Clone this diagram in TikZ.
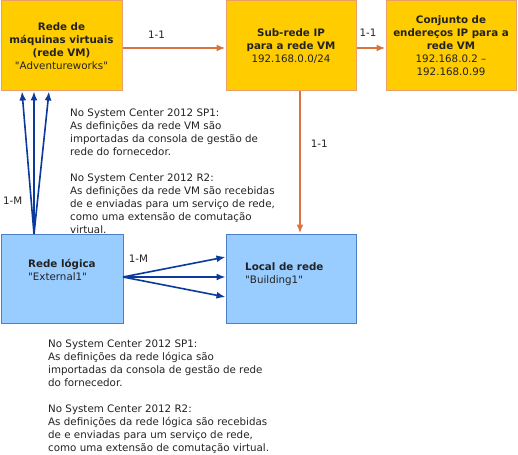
\documentclass[tikz,border=0pt]{standalone}
\usepackage{fontspec}
\setmainfont{DejaVu Sans}
\usetikzlibrary{arrows.meta}
\definecolor{vmgold}{HTML}{FFCC00}
\definecolor{goldedge}{HTML}{E8A06A}
\definecolor{arrorange}{HTML}{D9733F}
\definecolor{lrblue}{HTML}{99CCFF}
\definecolor{blueedge}{HTML}{4D7FC9}
\definecolor{arrblue}{HTML}{0B3A9C}
\definecolor{txtgray}{HTML}{222222}

\begin{document}
\begin{tikzpicture}[x=1pt,y=-1pt,
  every node/.style={font=\fontsize{10.3}{13}\selectfont, text=txtgray},
  goldbox/.style={draw=goldedge, fill=vmgold, line width=1pt, align=center},
  bluebox/.style={draw=blueedge, fill=lrblue, line width=1pt},
  orangearrow/.style={draw=arrorange, line width=1.8pt, -{Latex[length=9pt,width=7pt]}},
  bluearrow/.style={draw=arrblue, line width=1.6pt, -{Latex[length=9pt,width=7pt]}},
  lbl/.style={inner sep=0pt},
  note/.style={align=left, inner sep=0pt, anchor=north west}]
\useasboundingbox (0,0) rectangle (518,454); %page size

\node[goldbox, minimum width=121, minimum height=90] (vm) at (61.5,46) {\textbf{Rede de}\\\textbf{máquinas virtuais}\\\textbf{(rede VM)}\\\textquotedbl Adventureworks\textquotedbl}; %VM network
\node[goldbox, minimum width=130, minimum height=90] (sub) at (291,46) {\textbf{Sub-rede IP}\\\textbf{para a rede VM}\\192.168.0.0/24}; %IP subnet
\node[goldbox, minimum width=130, minimum height=90] (pool) at (451,46) {\textbf{Conjunto de}\\\textbf{endereços IP para a}\\\textbf{rede VM}\\192.168.0.2 --\\192.168.0.99}; %address pool
\node[bluebox, minimum width=122, minimum height=89] (lr) at (62,278.5) {}; %logical network
\node[bluebox, minimum width=130, minimum height=89] (loc) at (291,278.5) {}; %network site
\node[align=left, inner sep=0pt, anchor=west] (lrtxt) at (28,269.5) {\textbf{Rede lógica}\\\textquotedbl External1\textquotedbl}; %logical network text
\node[align=left, inner sep=0pt, anchor=west] (loctxt) at (245,274.5) {\textbf{Local de rede}\\\textquotedbl Building1\textquotedbl}; %site text

\draw[orangearrow] (vm.east |- 0,48) -- (sub.west |- 0,48) node[lbl, pos=.33, above=9pt] {1-1}; %vm to subnet
\draw[orangearrow] (sub.east |- 0,48) -- (pool.west |- 0,48) node[lbl, pos=.4, above=11pt] {1-1}; %subnet to pool
\draw[orangearrow] (sub.south -| 300,0) -- (loc.north -| 300,0) node[lbl, pos=.37, right=10pt] {1-1}; %subnet to site

\coordinate (lrtop) at (34,234); %start of the 1-M arrows
\draw[bluearrow] (lrtop) -- (vm.south -| 22,0);
\draw[bluearrow] (lrtop) -- (vm.south -| 34,0) node[lbl, pos=.23, left=11pt] {1-M};
\draw[bluearrow] (lrtop) -- (vm.south -| 49,0);

\coordinate (lrright) at (123,277); %start of the site arrows
\draw[bluearrow] (lrright) -- (loc.west |- 0,257);
\draw[bluearrow] (lrright) -- (loc.west |- 0,277) node[lbl, pos=.15, above=14pt] {1-M};
\draw[bluearrow] (lrright) -- (loc.west |- 0,297);

\node[note] (vmnote) at (70,108.5) {No System Center 2012 SP1:\\As definições da rede VM são\\importadas da consola de gestão de\\rede do fornecedor.\\[13pt]No System Center 2012 R2:\\As definições da rede VM são recebidas\\de e enviadas para um serviço de rede,\\como uma extensão de comutação\\virtual.}; %note on VM network
\node[note] (lrnote) at (48,339.5) {No System Center 2012 SP1:\\As definições da rede lógica são\\importadas da consola de gestão de rede\\do fornecedor.\\[13pt]No System Center 2012 R2:\\As definições da rede lógica são recebidas\\de e enviadas para um serviço de rede,\\como uma extensão de comutação virtual.}; %note on logical network
\end{tikzpicture}
\end{document}
